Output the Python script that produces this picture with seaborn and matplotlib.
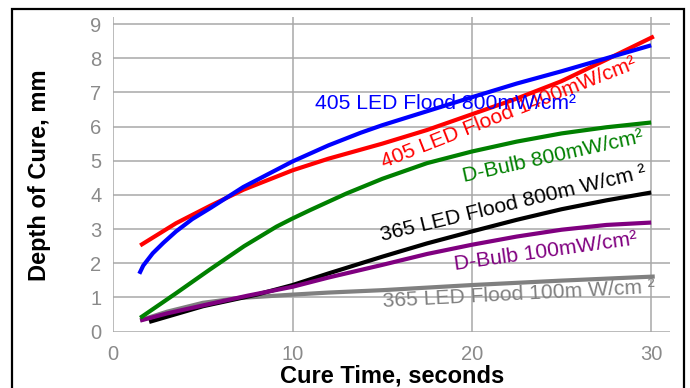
import matplotlib
matplotlib.use("Agg")
import matplotlib.pyplot as plt
import matplotlib.patches as mpatches
import seaborn as sns
import pandas as pd

# ---- data ----
blue_x = [1.45, 1.67, 2.2, 2.8, 3.5, 4.4, 5.4, 7.25, 10, 12, 13.8, 15, 17.5, 20, 22.5, 25, 27.5, 30]
blue_y = [1.69, 1.93, 2.29, 2.6, 2.93, 3.29, 3.61, 4.23, 4.98, 5.45, 5.82, 6.04, 6.45, 6.86, 7.26, 7.62, 8.0, 8.38]

red_x = [1.5, 3.5, 5.4, 7.25, 10, 12, 15, 17.5, 20, 22.5, 25, 27.5, 30.15]
red_y = [2.52, 3.17, 3.68, 4.15, 4.72, 5.06, 5.5, 5.9, 6.36, 6.82, 7.33, 7.96, 8.64]

green_x = [1.5, 3.5, 5.4, 7.3, 9.1, 10, 11, 12, 13, 15, 17.5, 20, 22.5, 25, 27.5, 30]
green_y = [0.4, 1.12, 1.82, 2.5, 3.07, 3.31, 3.56, 3.8, 4.04, 4.47, 4.93, 5.27, 5.56, 5.8, 5.98, 6.12]

black_x = [2, 5, 8, 10, 12, 15, 17.5, 20, 22.5, 25, 27.5, 30]
black_y = [0.28, 0.74, 1.08, 1.36, 1.7, 2.19, 2.58, 2.93, 3.27, 3.58, 3.84, 4.07]

purple_x = [1.5, 3, 5.4, 7.5, 10, 12, 15, 17.5, 20, 22.5, 25, 27.5, 30]
purple_y = [0.32, 0.53, 0.81, 1.05, 1.31, 1.58, 1.95, 2.27, 2.54, 2.78, 2.98, 3.12, 3.19]

gray_x = [1.5, 3, 5, 7, 10, 12, 15, 20, 25, 30.2]
gray_y = [0.33, 0.58, 0.84, 0.98, 1.08, 1.14, 1.21, 1.36, 1.49, 1.61]

series_names = ["365 LED Flood 100m W/cm ²", "365 LED Flood 800m W/cm ²",
                "D-Bulb 100mW/cm²", "D-Bulb 800mW/cm²",
                "405 LED Flood 1400mW/cm²", "405 LED Flood 800mW/cm²"]
series_colors = ["#808080", "#000000", "#800080", "#008000", "#ff0000", "#0000ff"]
series_x = [gray_x, black_x, purple_x, green_x, red_x, blue_x]
series_y = [gray_y, black_y, purple_y, green_y, red_y, blue_y]

# label placement (data coords of baseline-left) and rotation
label_x = [15.05, 14.96, 19.05, 19.57, 15.09, 11.24]
label_y = [0.71, 2.66, 1.80, 4.39, 4.79, 6.52]
label_rot = [3, 13.5, 8, 12.5, 21.5, 0]

x_ticks = [0, 10, 20, 30]
y_ticks = list(range(0, 10))
x_label = "Cure Time, seconds"
y_label = "Depth of Cure, mm"

rows = []
for name, xs, ys in zip(series_names, series_x, series_y):
    for xv, yv in zip(xs, ys):
        rows.append({"series": name, "x": xv, "y": yv})
df = pd.DataFrame(rows)

sns.set_style("white")
plt.rcParams["font.family"] = ["Liberation Sans", "DejaVu Sans"]
plt.rcParams["lines.solid_capstyle"] = "butt"
plt.rcParams["lines.solid_joinstyle"] = "round"

fig = plt.figure(figsize=(6.9, 3.88), dpi=100)
W, H = 690, 388
left_px, right_px, top_px, bottom_px = 113.3, 670, 17.3, 331.5
ax = fig.add_axes([left_px / W, 1 - bottom_px / H,
                   (right_px - left_px) / W, (bottom_px - top_px) / H])

sns.lineplot(data=df, x="x", y="y", hue="series", hue_order=series_names,
             palette=dict(zip(series_names, series_colors)),
             sort=False, estimator=None, linewidth=3.0, legend=False, ax=ax)

ax.set_xlim(0, 31.05)
ax.set_ylim(0, 9.2)
ax.set_xticks(x_ticks)
ax.set_yticks(y_ticks)
ax.grid(True, color="#a8a8a8", linewidth=1.1)
ax.set_axisbelow(True)
for s in ax.spines.values():
    s.set_visible(False)
ax.tick_params(axis="both", which="major", length=6, width=1.1, color="#a8a8a8",
               labelcolor="#8a8a8a", labelsize=14.5)
ax.tick_params(axis="x", pad=3.5)
ax.tick_params(axis="y", pad=2.5)

ax.set_xlabel(x_label, fontsize=17, fontweight="bold", color="black", va="baseline")
ax.set_ylabel(y_label, fontsize=17, fontweight="bold", color="black", va="center")
ax.xaxis.set_label_coords(0.5, (bottom_px - 382) / (bottom_px - top_px))
ax.yaxis.set_label_coords((39 - left_px) / (right_px - left_px), 0.497)

for name, col, lx, ly, rot in zip(series_names, series_colors, label_x, label_y, label_rot):
    ax.text(lx, ly, name, color=col, fontsize=15.2, rotation=rot,
            rotation_mode="anchor", ha="left", va="baseline")

# outer frame
frame = mpatches.Rectangle((12 / W, -0.1), (684 - 12) / W, 0.1 + 1 - 9 / H,
                           transform=fig.transFigure, fill=False,
                           edgecolor="black", linewidth=1.6, clip_on=False)
fig.patches.append(frame)

fig.savefig("out.png", dpi=100)
